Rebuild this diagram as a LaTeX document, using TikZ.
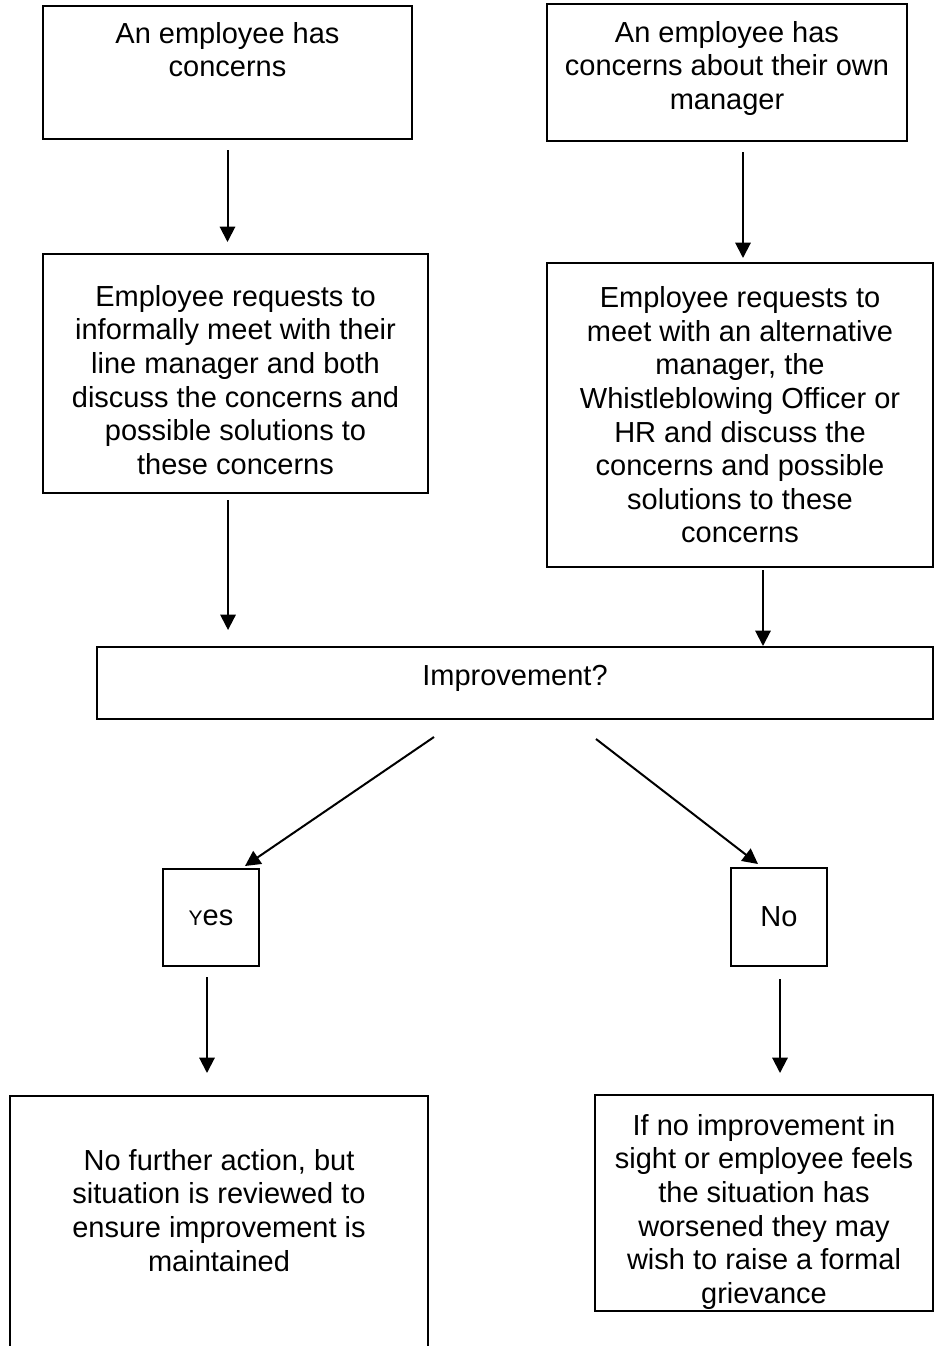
\documentclass[tikz,border=0pt]{standalone}
\usepackage{fontspec}
\setmainfont{Liberation Sans}
\usetikzlibrary{arrows.meta}
\newcommand{\pxu}{0.75pt}
\tikzset{
	box/.style={draw, line width=1.5pt, rectangle, anchor=north west, inner sep=3pt, align=center},
	boxtext/.style={anchor=north, inner sep=3pt, align=center},
	flow/.style={-{Triangle[length=11.5pt,width=11.5pt]}, line width=1.5pt},
}
\begin{document}
\begin{tikzpicture}[x=\pxu, y=-\pxu, font=\fontsize{21.75}{25.2}\selectfont]
	\useasboundingbox (0,0) rectangle (944,1346);
	\clip (0,0) rectangle (944,1346);

	% first boxes
	\node [box, minimum width=369*\pxu, minimum height=133*\pxu,
		label={[boxtext, yshift=-13*\pxu]north:{An employee has\\concerns}}] (concern) at (42,5) {};
	\node [box, minimum width=360*\pxu, minimum height=137*\pxu,
		label={[boxtext, yshift=-14*\pxu]north:{An employee has\\concerns about their own\\manager}}] (ownmgr) at (546,3) {};

	% meetings
	\node [box, minimum width=385*\pxu, minimum height=239*\pxu,
		label={[boxtext, yshift=-28*\pxu]north:{Employee requests to\\informally meet with their\\line manager and both\\discuss the concerns and\\possible solutions to\\these concerns}}] (linemgr) at (42,253) {};
	\node [box, minimum width=386*\pxu, minimum height=304*\pxu] (altmgr) at (546,262)
		{Employee requests to\\meet with an alternative\\manager, the\\Whistleblowing Officer or\\HR and discuss the\\concerns and possible\\solutions to these\\concerns};

	\node [box, minimum width=836*\pxu, minimum height=72*\pxu,
		label={[boxtext, yshift=-15*\pxu]north:Improvement?}] (improve) at (96,646) {};

	\node [box, minimum width=96*\pxu, minimum height=97*\pxu] (yes) at (162,868)
		{{\fontsize{15.8}{18}\selectfont Y}es};
	\node [box, minimum width=96*\pxu, minimum height=98*\pxu] (no) at (730,867) {No};

	% outcomes
	\node [box, minimum width=418*\pxu, minimum height=300*\pxu,
		label={[boxtext, yshift=-50*\pxu]north:{No further action, but\\situation is reviewed to\\ensure improvement is\\maintained}}] (review) at (9,1095) {};
	\node [box, minimum width=338*\pxu, minimum height=216*\pxu,
		label={[boxtext, yshift=-16*\pxu]north:{If no improvement in\\sight or employee feels\\the situation has\\worsened they may\\wish to raise a formal\\grievance}}] (formal) at (594,1094) {};

	% arrows
	\draw [flow, shorten <=7.5pt, shorten >=8.25pt] (concern.south) -- (concern.south |- linemgr.north);
	\draw [flow, shorten <=7.5pt, shorten >=3pt] ([xshift=12pt]ownmgr.south) -- ([xshift=12pt]ownmgr.south |- altmgr.north);
	\draw [flow, shorten <=4.5pt, shorten >=12pt] ([xshift=-5.6pt]linemgr.south) -- ([xshift=-5.6pt]linemgr.south |- improve.north);
	\draw [flow, shorten <=1.5pt] ([xshift=17.25pt]altmgr.south) -- ([xshift=17.25pt]altmgr.south |- improve.north);

	\draw [flow] ([xshift=-60.75pt, yshift=-12.75pt]improve.south) -- ([xshift=25.5pt, yshift=1.5pt]yes.north);
	\draw [flow] ([xshift=60.75pt, yshift=-14.25pt]improve.south) -- ([xshift=-15.75pt, yshift=2.25pt]no.north);

	\draw [flow, shorten <=7.5pt, shorten >=16.5pt] ([xshift=-3pt]yes.south) -- ([xshift=-3pt]yes.south |- review.north);
	\draw [flow, shorten <=9pt, shorten >=15.75pt] ([xshift=0.75pt]no.south) -- ([xshift=0.75pt]no.south |- formal.north);
\end{tikzpicture}
\end{document}
